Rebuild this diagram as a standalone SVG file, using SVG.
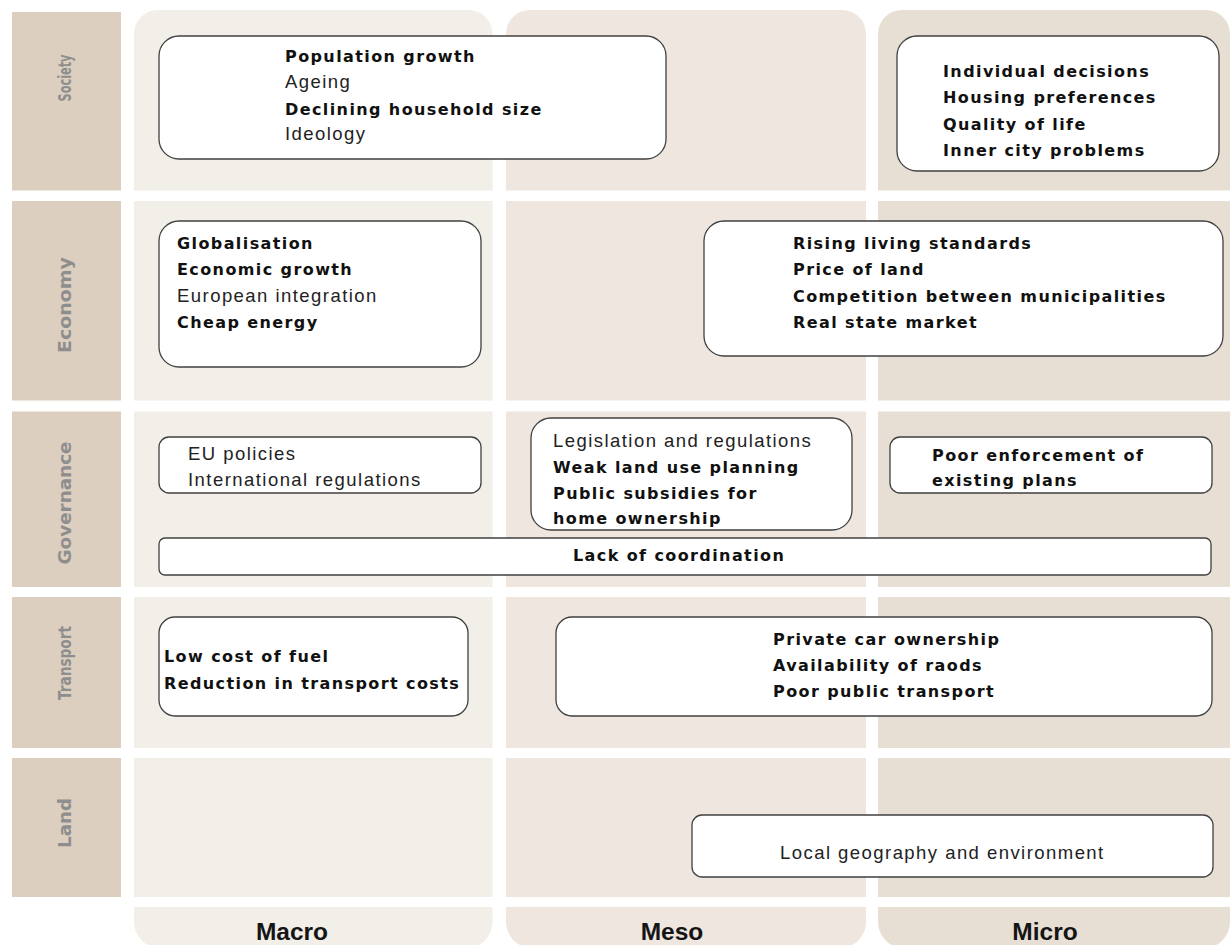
<svg xmlns="http://www.w3.org/2000/svg" width="1230" height="945" viewBox="0 0 1230 945">
<style>
.rl{fill:#DCCFBF}
.c1{fill:#F2EEE8}
.c2{fill:#EEE6DF}
.c3{fill:#E8DFD4}
.box{fill:#FFFFFF;stroke:#404040;stroke-width:1.3}
.b{font-family:"DejaVu Sans",Verdana,sans-serif;font-weight:bold;font-size:16px;letter-spacing:1.4px;fill:#111111}
.r{font-family:"Liberation Sans",Arial,sans-serif;font-size:18.5px;letter-spacing:1.45px;fill:#222222}
.lab{font-family:"DejaVu Sans",Verdana,sans-serif;font-weight:bold;font-size:18px;fill:#8E8E8E}
.lab2{font-family:"DejaVu Sans",Verdana,sans-serif;font-weight:bold;font-size:17px;fill:#8E8E8E}
.col{font-family:"Liberation Sans",Arial,sans-serif;font-weight:bold;font-size:24.5px;fill:#151515}
</style>
<rect width="1230" height="945" fill="#FFFFFF"/>
<g id="grid">
  <!-- row labels -->
  <rect class="rl" x="12" y="12" width="109" height="178.5"/>
  <rect class="rl" x="12" y="201" width="109" height="199.5"/>
  <rect class="rl" x="12" y="411.5" width="109" height="175.5"/>
  <rect class="rl" x="12" y="597" width="109" height="151"/>
  <rect class="rl" x="12" y="758" width="109" height="139"/>
  <!-- macro column -->
  <path class="c1" d="M134,34 A24,24 0 0 1 158,10 H468.5 A24,24 0 0 1 492.5,34 V190.5 H134 Z"/>
  <rect class="c1" x="134" y="201" width="358.5" height="199.5"/>
  <rect class="c1" x="134" y="411.5" width="358.5" height="175.5"/>
  <rect class="c1" x="134" y="597" width="358.5" height="151"/>
  <rect class="c1" x="134" y="758" width="358.5" height="139"/>
  <path class="c1" d="M134,907 H492.5 V922 A26,26 0 0 1 466.5,948 H160 A26,26 0 0 1 134,922 Z"/>
  <!-- meso column -->
  <path class="c2" d="M506,34 A24,24 0 0 1 530,10 H842 A24,24 0 0 1 866,34 V190.5 H506 Z"/>
  <rect class="c2" x="506" y="201" width="360" height="199.5"/>
  <rect class="c2" x="506" y="411.5" width="360" height="175.5"/>
  <rect class="c2" x="506" y="597" width="360" height="151"/>
  <rect class="c2" x="506" y="758" width="360" height="139"/>
  <path class="c2" d="M506,907 H866 V922 A26,26 0 0 1 840,948 H532 A26,26 0 0 1 506,922 Z"/>
  <!-- micro column -->
  <path class="c3" d="M878,34 A24,24 0 0 1 902,10 H1206 A24,24 0 0 1 1230,34 V190.5 H878 Z"/>
  <rect class="c3" x="878" y="201" width="352" height="199.5"/>
  <rect class="c3" x="878" y="411.5" width="352" height="175.5"/>
  <rect class="c3" x="878" y="597" width="352" height="151"/>
  <rect class="c3" x="878" y="758" width="352" height="139"/>
  <path class="c3" d="M878,907 H1230 V922 A26,26 0 0 1 1204,948 H904 A26,26 0 0 1 878,922 Z"/>
</g>
<g id="row-labels">
  <text class="lab2" transform="translate(71,78) rotate(-90)" text-anchor="middle" textLength="47" lengthAdjust="spacingAndGlyphs">Society</text>
  <text class="lab" transform="translate(71,305) rotate(-90)" text-anchor="middle" textLength="96" lengthAdjust="spacingAndGlyphs">Economy</text>
  <text class="lab" transform="translate(71,503) rotate(-90)" text-anchor="middle" textLength="123" lengthAdjust="spacingAndGlyphs">Governance</text>
  <text class="lab2" transform="translate(71,663) rotate(-90)" text-anchor="middle" textLength="74" lengthAdjust="spacingAndGlyphs">Transport</text>
  <text class="lab" transform="translate(71,823) rotate(-90)" text-anchor="middle" textLength="50" lengthAdjust="spacingAndGlyphs">Land</text>
</g>
<g id="column-labels">
  <text class="col" x="292" y="940" text-anchor="middle">Macro</text>
  <text class="col" x="672" y="940" text-anchor="middle">Meso</text>
  <text class="col" x="1045" y="940" text-anchor="middle">Micro</text>
</g>
<g id="society-macro">
  <rect class="box" x="159" y="36" width="507" height="123" rx="20"/>
  <text class="b" x="285" y="62">Population growth</text>
  <text class="r" x="285" y="88">Ageing</text>
  <text class="b" x="285" y="115">Declining household size</text>
  <text class="r" x="285" y="140">Ideology</text>
</g>
<g id="society-micro">
  <rect class="box" x="897" y="36" width="322" height="135" rx="20"/>
  <text class="b" x="943" y="77">Individual decisions</text>
  <text class="b" x="943" y="103">Housing preferences</text>
  <text class="b" x="943" y="130">Quality of life</text>
  <text class="b" x="943" y="156">Inner city problems</text>
</g>
<g id="economy-macro">
  <rect class="box" x="159" y="221" width="322" height="146" rx="20"/>
  <text class="b" x="177" y="249">Globalisation</text>
  <text class="b" x="177" y="275">Economic growth</text>
  <text class="r" x="177" y="302">European integration</text>
  <text class="b" x="177" y="328">Cheap energy</text>
</g>
<g id="economy-mesomicro">
  <rect class="box" x="704" y="221" width="519" height="135" rx="20"/>
  <text class="b" x="793" y="249">Rising living standards</text>
  <text class="b" x="793" y="275">Price of land</text>
  <text class="b" x="793" y="302">Competition between municipalities</text>
  <text class="b" x="793" y="328">Real state market</text>
</g>
<g id="governance-macro">
  <rect class="box" x="159" y="437" width="322" height="56" rx="10"/>
  <text class="r" x="188" y="460">EU policies</text>
  <text class="r" x="188" y="486">International regulations</text>
</g>
<g id="governance-meso">
  <rect class="box" x="531" y="418" width="321" height="112" rx="20"/>
  <text class="r" x="553" y="447">Legislation and regulations</text>
  <text class="b" x="553" y="473">Weak land use planning</text>
  <text class="b" x="553" y="499">Public subsidies for</text>
  <text class="b" x="553" y="524">home ownership</text>
</g>
<g id="governance-micro">
  <rect class="box" x="890" y="437" width="322" height="56" rx="10"/>
  <text class="b" x="932" y="461">Poor enforcement of</text>
  <text class="b" x="932" y="486">existing plans</text>
</g>
<g id="governance-all">
  <rect class="box" x="159" y="538" width="1052" height="37" rx="6"/>
  <text class="b" x="573" y="561">Lack of coordination</text>
</g>
<g id="transport-macro">
  <rect class="box" x="159" y="617" width="309" height="99" rx="16"/>
  <text class="b" x="164" y="662">Low cost of fuel</text>
  <text class="b" x="164" y="689">Reduction in transport costs</text>
</g>
<g id="transport-mesomicro">
  <rect class="box" x="556" y="617" width="656" height="99" rx="16"/>
  <text class="b" x="773" y="645">Private car ownership</text>
  <text class="b" x="773" y="671">Availability of raods</text>
  <text class="b" x="773" y="697">Poor public transport</text>
</g>
<g id="land-mesomicro">
  <rect class="box" x="692" y="815" width="521" height="62" rx="10"/>
  <text class="r" x="780" y="859">Local geography and environment</text>
</g>
<g id="connectors"></g>
</svg>
